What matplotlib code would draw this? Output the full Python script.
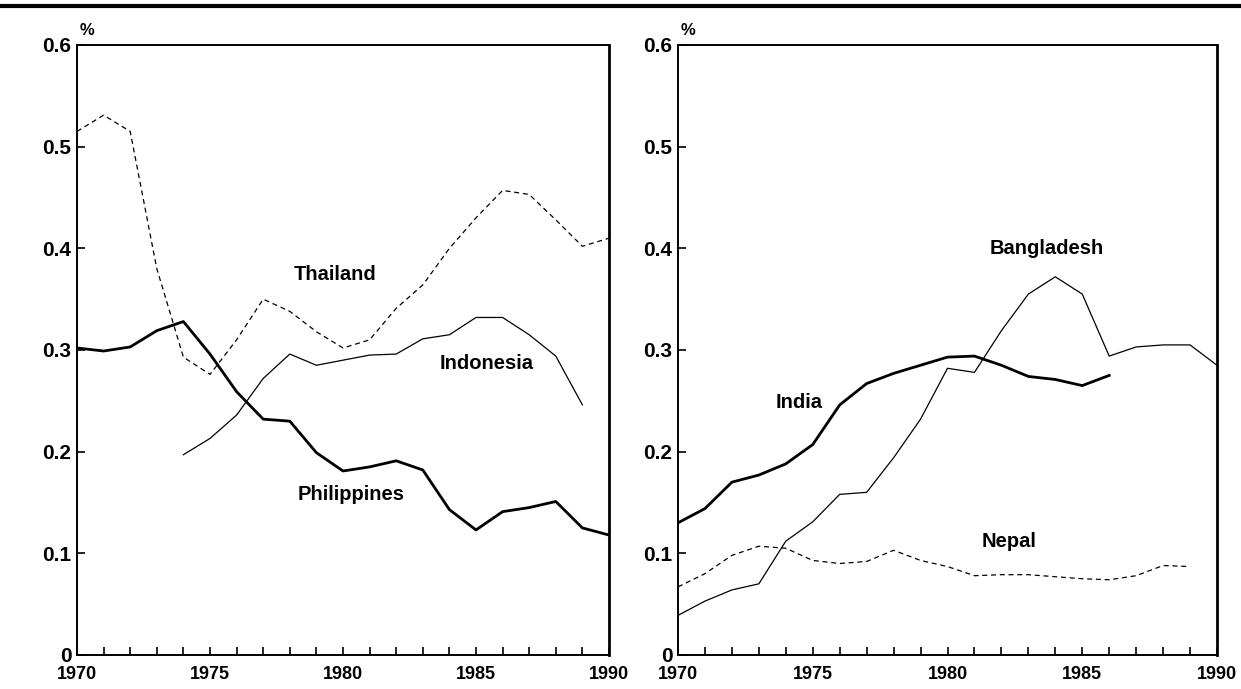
import matplotlib
matplotlib.use("Agg")
import matplotlib.pyplot as plt
from matplotlib.lines import Line2D

plt.rcParams['font.family'] = ['Liberation Sans', 'DejaVu Sans']
plt.rcParams['font.weight'] = 'bold'

# ---- Left panel data ----
years_full = list(range(1970, 1991))
philippines = [0.302, 0.299, 0.303, 0.319, 0.328, 0.296, 0.259, 0.232, 0.230, 0.199,
               0.181, 0.185, 0.191, 0.182, 0.143, 0.123, 0.141, 0.145, 0.151, 0.125, 0.118]
thailand = [0.515, 0.531, 0.515, 0.380, 0.293, 0.276, 0.310, 0.350, 0.338, 0.318,
            0.302, 0.310, 0.341, 0.364, 0.400, 0.430, 0.457, 0.453, 0.428, 0.402, 0.410]
years_indonesia = list(range(1974, 1990))
indonesia = [0.197, 0.213, 0.236, 0.272, 0.296, 0.285, 0.290, 0.295, 0.296, 0.311,
             0.315, 0.332, 0.332, 0.315, 0.294, 0.246]

# ---- Right panel data ----
years_india = list(range(1970, 1987))
india = [0.130, 0.144, 0.170, 0.177, 0.188, 0.207, 0.246, 0.267, 0.277, 0.285,
         0.293, 0.294, 0.285, 0.274, 0.271, 0.265, 0.275]
bangladesh = [0.039, 0.053, 0.064, 0.070, 0.112, 0.131, 0.158, 0.160, 0.194, 0.232,
              0.282, 0.278, 0.319, 0.355, 0.372, 0.355, 0.294, 0.303, 0.305, 0.305, 0.285]
years_nepal = list(range(1970, 1990))
nepal = [0.067, 0.080, 0.098, 0.107, 0.105, 0.093, 0.090, 0.092, 0.103, 0.093,
         0.087, 0.078, 0.079, 0.079, 0.077, 0.075, 0.074, 0.078, 0.088, 0.087]

xtick_years = [1970, 1975, 1980, 1985, 1990]
ytick_vals = [0, 0.1, 0.2, 0.3, 0.4, 0.5, 0.6]
ytick_labels = ['0', '0.1', '0.2', '0.3', '0.4', '0.5', '0.6']

W, H = 1241, 689
fig = plt.figure(figsize=(W / 100, H / 100), dpi=100)
fig.patch.set_facecolor('white')

def px_axes(l, r, t, b):
    return [l / W, 1 - b / H, (r - l) / W, (b - t) / H]

axL = fig.add_axes(px_axes(77, 609, 45, 655))
axR = fig.add_axes(px_axes(678, 1217, 45, 655))

THICK = 2.0
THIN = 0.9
DASH = (0, (4, 3))

axL.plot(years_full, philippines, color='black', lw=THICK)
axL.plot(years_full, thailand, color='black', lw=THIN, linestyle=DASH)
axL.plot(years_indonesia, indonesia, color='black', lw=THIN)

axR.plot(years_india, india, color='black', lw=THICK)
axR.plot(years_full, bangladesh, color='black', lw=THIN)
axR.plot(years_nepal, nepal, color='black', lw=THIN, linestyle=DASH)

label_fs = 14.5
axL.text(1979.7, 0.374, 'Thailand', ha='center', va='center', fontsize=label_fs, fontweight='bold')
axL.text(1985.4, 0.287, 'Indonesia', ha='center', va='center', fontsize=label_fs, fontweight='bold')
axL.text(1980.3, 0.158, 'Philippines', ha='center', va='center', fontsize=label_fs, fontweight='bold')
axR.text(1983.7, 0.400, 'Bangladesh', ha='center', va='center', fontsize=label_fs, fontweight='bold')
axR.text(1974.5, 0.248, 'India', ha='center', va='center', fontsize=label_fs, fontweight='bold')
axR.text(1982.3, 0.112, 'Nepal', ha='center', va='center', fontsize=label_fs, fontweight='bold')

for ax in (axL, axR):
    ax.set_xlim(1970, 1990)
    ax.set_ylim(0, 0.6)
    ax.set_xticks(list(range(1970, 1991)))
    ax.set_xticklabels([str(y) if y in xtick_years else '' for y in range(1970, 1991)],
                       fontsize=13, fontweight='bold')
    ax.set_yticks(ytick_vals)
    ax.set_yticklabels(ytick_labels, fontsize=15, fontweight='bold')
    ax.tick_params(axis='x', direction='in', length=6, width=1.2, pad=8)
    ax.tick_params(axis='y', direction='in', length=6, width=1.2, pad=4)
    for s in ax.spines.values():
        s.set_linewidth(1.4)
    ax.spines['right'].set_linewidth(2.0)
    ax.text(0.005, 1.012, '%', transform=ax.transAxes, ha='left', va='bottom',
            fontsize=12, fontweight='bold')

# Thick rule across the top of the figure
fig.add_artist(Line2D([0, 1], [1 - 6 / H, 1 - 6 / H], transform=fig.transFigure,
                      color='black', lw=3))

fig.savefig('out.png', dpi=100, facecolor='white')
